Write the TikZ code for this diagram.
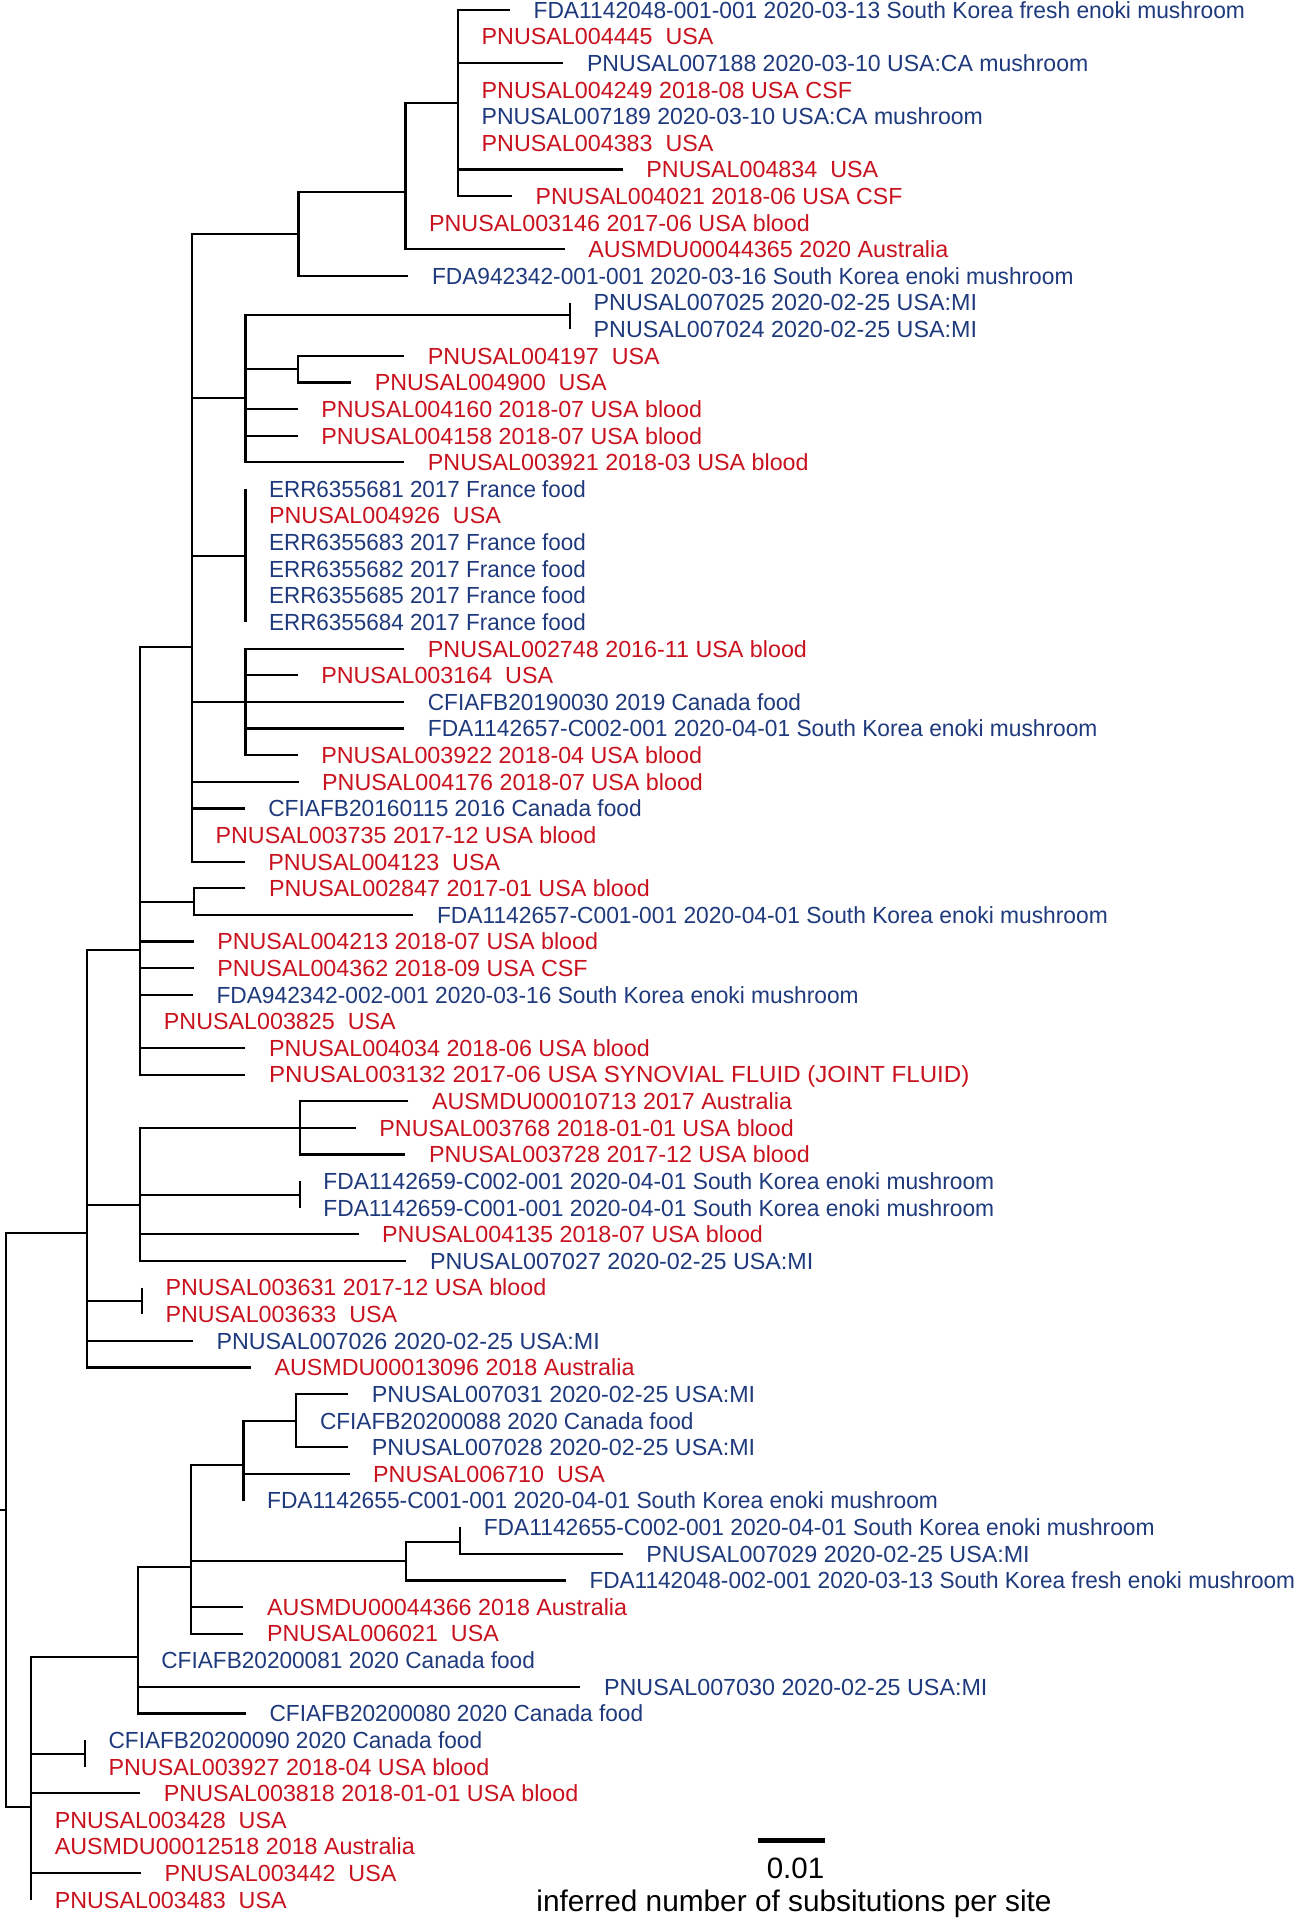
\documentclass[tikz,border=0pt]{standalone}
\usepackage{fontspec}
\setmainfont{Liberation Sans}
\definecolor{tred}{RGB}{200,18,30}
\definecolor{tblue}{RGB}{30,58,125}
\newcommand\lf[4]{\coordinate (t#1) at (#2,{9.8+(#1-1)*26.62});
  \node[lab,text=#3] (n#1) at ([xshift=23.5pt]t#1) {#4};}
\newcommand\sx[2]{\scalebox{#1}[1]{#2}}
\begin{document}
\begin{tikzpicture}[x=1pt,y=-1pt,
  br/.style={line width=2.2pt},
  lab/.style={anchor=west,inner sep=0pt,text height=16.7pt,text depth=0pt,font=\fontsize{23.3}{28}\selectfont}]
\useasboundingbox (0,0) rectangle (1299,1920);
% leaves
\lf{1}{509.9}{tblue}{\sx{0.978}{FDA1142048-001-001 2020-03-13 South Korea fresh enoki mushroom}}
\lf{2}{458.0}{tred}{PNUSAL004445\ \ USA}
\lf{3}{563.4}{tblue}{\sx{0.99}{PNUSAL007188 2020-03-10 USA:CA mushroom}}
\lf{4}{458.0}{tred}{PNUSAL004249 2018-08 USA CSF}
\lf{5}{458.0}{tblue}{\sx{0.99}{PNUSAL007189 2020-03-10 USA:CA mushroom}}
\lf{6}{458.0}{tred}{PNUSAL004383\ \ USA}
\lf{7}{622.7}{tred}{PNUSAL004834\ \ USA}
\lf{8}{512.0}{tred}{\sx{0.99}{PNUSAL004021 2018-06 USA CSF}}
\lf{9}{405.4}{tred}{PNUSAL003146 2017-06 USA blood}
\lf{10}{564.6}{tred}{AUSMDU00044365 2020 Australia}
\lf{11}{408.3}{tblue}{\sx{0.975}{FDA942342-001-001 2020-03-16 South Korea enoki mushroom}}
\lf{12}{570.0}{tblue}{PNUSAL007025 2020-02-25 USA:MI}
\lf{13}{570.0}{tblue}{PNUSAL007024 2020-02-25 USA:MI}
\lf{14}{404.2}{tred}{PNUSAL004197\ \ USA}
\lf{15}{351.1}{tred}{PNUSAL004900\ \ USA}
\lf{16}{297.6}{tred}{PNUSAL004160 2018-07 USA blood}
\lf{17}{297.6}{tred}{PNUSAL004158 2018-07 USA blood}
\lf{18}{404.2}{tred}{PNUSAL003921 2018-03 USA blood}
\lf{19}{245.4}{tblue}{\sx{0.963}{ERR6355681 2017 France food}}
\lf{20}{245.4}{tred}{PNUSAL004926\ \ USA}
\lf{21}{245.4}{tblue}{\sx{0.963}{ERR6355683 2017 France food}}
\lf{22}{245.4}{tblue}{\sx{0.963}{ERR6355682 2017 France food}}
\lf{23}{245.4}{tblue}{\sx{0.963}{ERR6355685 2017 France food}}
\lf{24}{245.4}{tblue}{\sx{0.963}{ERR6355684 2017 France food}}
\lf{25}{404.2}{tred}{PNUSAL002748 2016-11 USA blood}
\lf{26}{297.6}{tred}{PNUSAL003164\ \ USA}
\lf{27}{404.2}{tblue}{\sx{0.97}{CFIAFB20190030 2019 Canada food}}
\lf{28}{404.2}{tblue}{\sx{0.976}{FDA1142657-C002-001 2020-04-01 South Korea enoki mushroom}}
\lf{29}{297.6}{tred}{PNUSAL003922 2018-04 USA blood}
\lf{30}{298.5}{tred}{PNUSAL004176 2018-07 USA blood}
\lf{31}{244.6}{tblue}{\sx{0.975}{CFIAFB20160115 2016 Canada food}}
\lf{32}{191.9}{tred}{PNUSAL003735 2017-12 USA blood}
\lf{33}{244.6}{tred}{PNUSAL004123\ \ USA}
\lf{34}{245.4}{tred}{PNUSAL002847 2017-01 USA blood}
\lf{35}{413.3}{tblue}{\sx{0.978}{FDA1142657-C001-001 2020-04-01 South Korea enoki mushroom}}
\lf{36}{193.6}{tred}{PNUSAL004213 2018-07 USA blood}
\lf{37}{193.6}{tred}{PNUSAL004362 2018-09 USA CSF}
\lf{38}{192.8}{tblue}{\sx{0.976}{FDA942342-002-001 2020-03-16 South Korea enoki mushroom}}
\lf{39}{140.2}{tred}{PNUSAL003825\ \ USA}
\lf{40}{245.4}{tred}{PNUSAL004034 2018-06 USA blood}
\lf{41}{245.4}{tred}{\sx{1.034}{PNUSAL003132 2017-06 USA SYNOVIAL FLUID (JOINT FLUID)}}
\lf{42}{408.3}{tred}{AUSMDU00010713 2017 Australia}
\lf{43}{355.7}{tred}{PNUSAL003768 2018-01-01 USA blood}
\lf{44}{405.4}{tred}{PNUSAL003728 2017-12 USA blood}
\lf{45}{299.7}{tblue}{\sx{0.978}{FDA1142659-C002-001 2020-04-01 South Korea enoki mushroom}}
\lf{46}{299.7}{tblue}{\sx{0.978}{FDA1142659-C001-001 2020-04-01 South Korea enoki mushroom}}
\lf{47}{358.5}{tred}{PNUSAL004135 2018-07 USA blood}
\lf{48}{406.3}{tblue}{PNUSAL007027 2020-02-25 USA:MI}
\lf{49}{141.8}{tred}{PNUSAL003631 2017-12 USA blood}
\lf{50}{141.8}{tred}{PNUSAL003633\ \ USA}
\lf{51}{192.8}{tblue}{PNUSAL007026 2020-02-25 USA:MI}
\lf{52}{250.8}{tred}{AUSMDU00013096 2018 Australia}
\lf{53}{348.2}{tblue}{PNUSAL007031 2020-02-25 USA:MI}
\lf{54}{296.3}{tblue}{\sx{0.971}{CFIAFB20200088 2020 Canada food}}
\lf{55}{348.2}{tblue}{PNUSAL007028 2020-02-25 USA:MI}
\lf{56}{349.5}{tred}{PNUSAL006710\ \ USA}
\lf{57}{243.4}{tblue}{\sx{0.978}{FDA1142655-C001-001 2020-04-01 South Korea enoki mushroom}}
\lf{58}{460.1}{tblue}{\sx{0.978}{FDA1142655-C002-001 2020-04-01 South Korea enoki mushroom}}
\lf{59}{622.7}{tblue}{PNUSAL007029 2020-02-25 USA:MI}
\lf{60}{565.8}{tblue}{\sx{0.97}{FDA1142048-002-001 2020-03-13 South Korea fresh enoki mushroom}}
\lf{61}{243.4}{tred}{AUSMDU00044366 2018 Australia}
\lf{62}{243.4}{tred}{PNUSAL006021\ \ USA}
\lf{63}{137.7}{tblue}{\sx{0.971}{CFIAFB20200081 2020 Canada food}}
\lf{64}{580.4}{tblue}{PNUSAL007030 2020-02-25 USA:MI}
\lf{65}{245.9}{tblue}{\sx{0.971}{CFIAFB20200080 2020 Canada food}}
\lf{66}{84.9}{tblue}{\sx{0.971}{CFIAFB20200090 2020 Canada food}}
\lf{67}{84.9}{tred}{PNUSAL003927 2018-04 USA blood}
\lf{68}{140.2}{tred}{PNUSAL003818 2018-01-01 USA blood}
\lf{69}{31.1}{tred}{PNUSAL003428\ \ USA}
\lf{70}{31.1}{tred}{AUSMDU00012518 2018 Australia}
\lf{71}{140.9}{tred}{PNUSAL003442\ \ USA}
\lf{72}{31.1}{tred}{PNUSAL003483\ \ USA}
% internal nodes
\coordinate (A) at (458.0,102.7);
\coordinate (B) at (405.4,191.7);
\coordinate (C) at (298.5,234.0);
\coordinate (X) at (570.0,315.3);
\coordinate (F) at (297.6,369.0);
\coordinate (E) at (245.4,398.3);
\coordinate (G) at (245.4,555.7);
\coordinate (H) at (245.4,701.7);
\coordinate (D) at (191.9,646.7);
\coordinate (I) at (193.6,901.7);
\coordinate (J) at (140.2,950.0);
\coordinate (M) at (299.7,1128.3);
\coordinate (N) at (299.7,1195.0);
\coordinate (L) at (140.2,1205.0);
\coordinate (O) at (141.8,1301.0);
\coordinate (K) at (87.1,1233.3);
\coordinate (V) at (296.3,1421.0);
\coordinate (T) at (243.4,1465.0);
\coordinate (W) at (460.1,1541.7);
\coordinate (U) at (406.3,1561.0);
\coordinate (S) at (190.6,1566.7);
\coordinate (Q) at (137.7,1657.3);
\coordinate (R) at (84.9,1754.0);
\coordinate (P) at (31.1,1806.7);
\coordinate (root) at (6.2,1510.0);
\coordinate (stem) at (0,1510.0);
% branches
\draw[br] (t1) -| (A) |- (t8);
\foreach \c in {t2,t3,t4,t5,t6,t7} \draw[br] (A) |- (\c);
\draw[br] (A) -| (B) |- (t10);
\draw[br] (B) |- (t9);
\draw[br] (B) -| (C) |- (t11);
\draw[br] (t12) -| (X) |- (t13);
\draw[br] (t14) -| (F) |- (t15);
\draw[br] (X) -| (E) |- (t18);
\foreach \c in {F,t16,t17} \draw[br] (E) |- (\c);
\draw[br] (t19) -| (G) |- (t24);
\draw[br] (t25) -| (H) |- (t29);
\foreach \c in {t26,t27,t28} \draw[br] (H) |- (\c);
\draw[br] (C) -| (D) |- (t33);
\foreach \c in {E,G,H,t30,t31,t32} \draw[br] (D) |- (\c);
\draw[br] (t34) -| (I) |- (t35);
\draw[br] (D) -| (J) |- (t41);
\foreach \c in {I,t36,t37,t38,t39,t40} \draw[br] (J) |- (\c);
\draw[br] (t42) -| (M) |- (t44);
\draw[br] (M) |- (t43);
\draw[br] (t45) -| (N) |- (t46);
\draw[br] (M) -| (L) |- (t48);
\foreach \c in {N,t47} \draw[br] (L) |- (\c);
\draw[br] (t49) -| (O) |- (t50);
\draw[br] (J) -| (K) |- (t52);
\foreach \c in {L,O,t51} \draw[br] (K) |- (\c);
\draw[br] (t53) -| (V) |- (t55);
\draw[br] (V) |- (t54);
\draw[br] (V) -| (T) |- (t57);
\draw[br] (T) |- (t56);
\draw[br] (t58) -| (W) |- (t59);
\draw[br] (W) -| (U) |- (t60);
\draw[br] (T) -| (S) |- (t62);
\foreach \c in {U,t61} \draw[br] (S) |- (\c);
\draw[br] (S) -| (Q) |- (t65);
\foreach \c in {t63,t64} \draw[br] (Q) |- (\c);
\draw[br] (t66) -| (R) |- (t67);
\draw[br] (Q) -| (P) |- (t72);
\foreach \c in {R,t68,t69,t70,t71} \draw[br] (P) |- (\c);
\draw[br] (K) -| (root) |- (P);
\draw[br] (stem) -- (root);
% scale bar
\coordinate (s1) at (757.7,1840.7);
\coordinate (s2) at (825.0,1840.7);
\draw[line width=4.5pt] (s1) -- (s2);
\node[anchor=base,inner sep=0pt,font=\fontsize{29.5}{34}\selectfont] (sv) at (795.5,1878) {0.01};
\node[anchor=base,inner sep=0pt,font=\fontsize{29.8}{34}\selectfont] (st) at (794,1911) {inferred number of subsitutions per site};
\end{tikzpicture}
\end{document}
